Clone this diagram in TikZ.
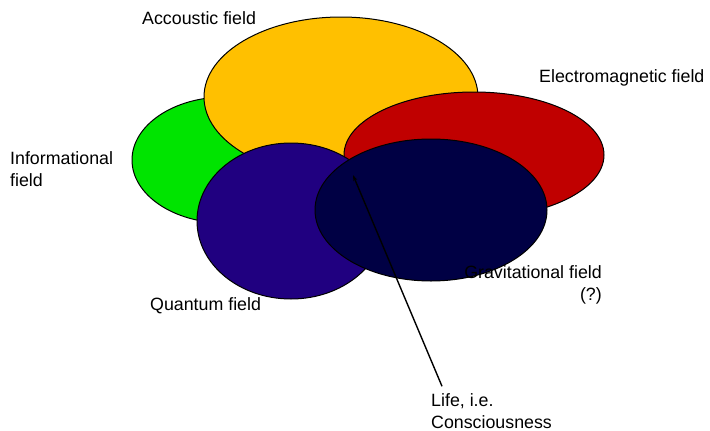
\documentclass[tikz,border=0pt]{standalone}
\usepackage{fontspec}
\setmainfont{Liberation Sans}
\usetikzlibrary{arrows.meta}
\definecolor{infocolor}{RGB}{0, 228, 0}
\definecolor{acoucolor}{RGB}{255, 192, 0}
\definecolor{emcolor}{RGB}{192, 0, 0}
\definecolor{quantcolor}{RGB}{32, 0, 128}
\definecolor{gravcolor}{RGB}{0, 0, 68}
\begin{document}
\begin{tikzpicture}[
    x=1pt, y=-1pt,
    field/.style={draw=black, line width=1pt},
    label/.style={inner sep=0pt, font=\fontsize{17.8}{22}\selectfont},
    pointer/.style={-{Stealth[length=6pt, width=4pt]}, line width=1.4pt, black}
]
    \useasboundingbox (0,0) rectangle (710,431);
    % Fields, back to front
    \draw[field, fill=infocolor] (225,160) ellipse [x radius=93pt, y radius=63pt];
    \draw[field, fill=acoucolor] (341,97) ellipse [x radius=137pt, y radius=80pt];
    \draw[field, fill=emcolor] (474,155) ellipse [x radius=130pt, y radius=63pt];
    \draw[field, fill=quantcolor] (291,221) ellipse [x radius=94pt, y radius=78pt];
    \draw[field, fill=gravcolor] (431,210) ellipse [x radius=116pt, y radius=71pt];
    
    % Labels
    \node[label, anchor=west] (acou) at (142,18) {Accoustic field};
    \node[label, anchor=west] (em) at (539,78) {Electromagnetic field};
    \node[label, anchor=west, align=left] (info) at (10,169) {Informational\\field};
    \node[label, anchor=west] (quant) at (150,306) {Quantum field};
    \node[label, anchor=east, align=right] (grav) at (602,285) {Gravitational field\\(?)};
    \node[label, anchor=west, align=left] (life) at (431,411) {Life, i.e.\\Consciousness};
    
    \coordinate (tip) at (353,175);
    \draw[pointer] ([xshift=11pt, yshift=7pt]life.north west) -- (tip);
\end{tikzpicture}
\end{document}
